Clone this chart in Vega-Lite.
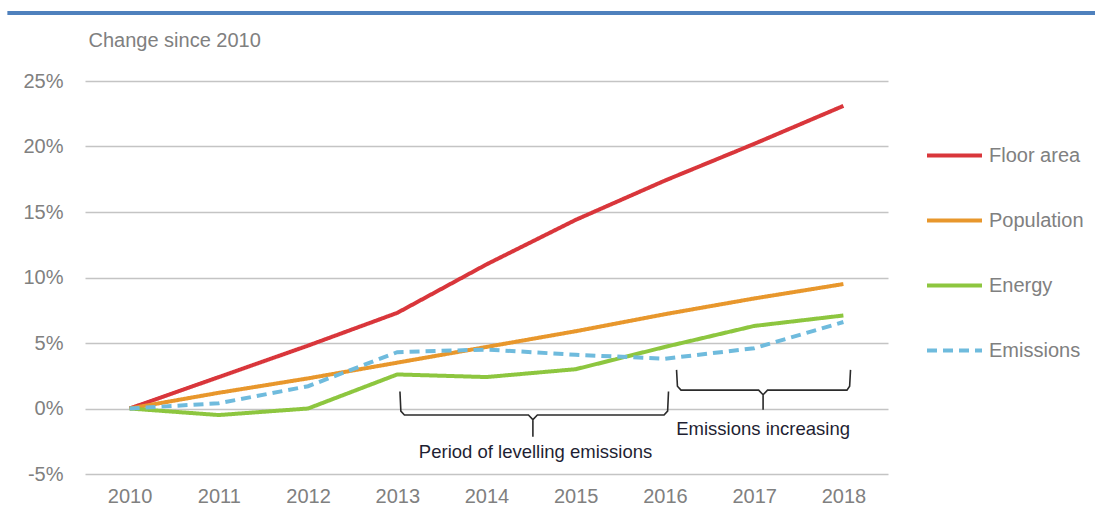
{
  "$schema": "https://vega.github.io/schema/vega-lite/v6.json",
  "width": 803,
  "height": 393,
  "autosize": {"type": "none"},
  "padding": {"left": 85, "top": 81, "right": 207, "bottom": 34},
  "background": "white",
  "config": {"font": "Liberation Sans", "view": {"stroke": null}},
  "datasets": {
    "series": [
      {"series": "Floor area", "year": 2010, "pct": 0},
      {"series": "Floor area", "year": 2011, "pct": 2.4},
      {"series": "Floor area", "year": 2012, "pct": 4.8},
      {"series": "Floor area", "year": 2013, "pct": 7.3},
      {"series": "Floor area", "year": 2014, "pct": 11.0},
      {"series": "Floor area", "year": 2015, "pct": 14.4},
      {"series": "Floor area", "year": 2016, "pct": 17.4},
      {"series": "Floor area", "year": 2017, "pct": 20.2},
      {"series": "Floor area", "year": 2018, "pct": 23.1},
      {"series": "Population", "year": 2010, "pct": 0},
      {"series": "Population", "year": 2011, "pct": 1.2},
      {"series": "Population", "year": 2012, "pct": 2.3},
      {"series": "Population", "year": 2013, "pct": 3.5},
      {"series": "Population", "year": 2014, "pct": 4.7},
      {"series": "Population", "year": 2015, "pct": 5.9},
      {"series": "Population", "year": 2016, "pct": 7.2},
      {"series": "Population", "year": 2017, "pct": 8.4},
      {"series": "Population", "year": 2018, "pct": 9.5},
      {"series": "Energy", "year": 2010, "pct": 0},
      {"series": "Energy", "year": 2011, "pct": -0.5},
      {"series": "Energy", "year": 2012, "pct": 0},
      {"series": "Energy", "year": 2013, "pct": 2.6},
      {"series": "Energy", "year": 2014, "pct": 2.4},
      {"series": "Energy", "year": 2015, "pct": 3.0},
      {"series": "Energy", "year": 2016, "pct": 4.7},
      {"series": "Energy", "year": 2017, "pct": 6.3},
      {"series": "Energy", "year": 2018, "pct": 7.1},
      {"series": "Emissions", "year": 2010, "pct": 0},
      {"series": "Emissions", "year": 2011, "pct": 0.4},
      {"series": "Emissions", "year": 2012, "pct": 1.7},
      {"series": "Emissions", "year": 2013, "pct": 4.3},
      {"series": "Emissions", "year": 2014, "pct": 4.5},
      {"series": "Emissions", "year": 2015, "pct": 4.1},
      {"series": "Emissions", "year": 2016, "pct": 3.8},
      {"series": "Emissions", "year": 2017, "pct": 4.6},
      {"series": "Emissions", "year": 2018, "pct": 6.6}
    ],
    "braces": [
      {"brace": "A", "ord": 1, "year": 2013.03, "pct": 1.3},
      {"brace": "A", "ord": 2, "year": 2013.04, "pct": -0.2},
      {"brace": "A", "ord": 3, "year": 2013.08, "pct": -0.5},
      {"brace": "A", "ord": 4, "year": 2014.47, "pct": -0.5},
      {"brace": "A", "ord": 5, "year": 2014.52, "pct": -0.85},
      {"brace": "A", "ord": 6, "year": 2014.52, "pct": -2.15},
      {"brace": "A", "ord": 7, "year": 2014.52, "pct": -0.85},
      {"brace": "A", "ord": 8, "year": 2014.57, "pct": -0.5},
      {"brace": "A", "ord": 9, "year": 2015.99, "pct": -0.5},
      {"brace": "A", "ord": 10, "year": 2016.03, "pct": -0.2},
      {"brace": "A", "ord": 11, "year": 2016.04, "pct": 1.3},
      {"brace": "B", "ord": 1, "year": 2016.13, "pct": 2.95},
      {"brace": "B", "ord": 2, "year": 2016.14, "pct": 1.7},
      {"brace": "B", "ord": 3, "year": 2016.18, "pct": 1.4},
      {"brace": "B", "ord": 4, "year": 2017.05, "pct": 1.4},
      {"brace": "B", "ord": 5, "year": 2017.1, "pct": 1.05},
      {"brace": "B", "ord": 6, "year": 2017.1, "pct": -0.1},
      {"brace": "B", "ord": 7, "year": 2017.1, "pct": 1.05},
      {"brace": "B", "ord": 8, "year": 2017.15, "pct": 1.4},
      {"brace": "B", "ord": 9, "year": 2018.04, "pct": 1.4},
      {"brace": "B", "ord": 10, "year": 2018.07, "pct": 1.7},
      {"brace": "B", "ord": 11, "year": 2018.08, "pct": 2.95}
    ],
    "notes": [
      {"label": "Period of levelling emissions", "year": 2014.55, "pct": -3.3},
      {"label": "Emissions increasing", "year": 2017.1, "pct": -1.55}
    ],
    "topline": [
      {"year": 2008.63, "year2": 2020.82, "pct": 30.2}
    ]
  },
  "encoding": {
    "x": {
      "field": "year",
      "type": "quantitative",
      "scale": {"domain": [2009.5, 2018.5], "nice": false, "zero": false},
      "axis": {
        "values": [2010, 2011, 2012, 2013, 2014, 2015, 2016, 2017, 2018],
        "format": "d",
        "grid": false,
        "ticks": false,
        "domain": false,
        "title": null,
        "labelFontSize": 20,
        "labelColor": "#808080",
        "labelPadding": 12,
        "labelFlush": false
      }
    },
    "y": {
      "field": "pct",
      "type": "quantitative",
      "scale": {"domain": [-5, 25], "nice": false, "zero": false},
      "axis": {
        "values": [-5, 0, 5, 10, 15, 20, 25],
        "labelExpr": "datum.value + '%'",
        "grid": true,
        "gridColor": "#c4c4c4",
        "gridWidth": 1.5,
        "ticks": false,
        "domain": false,
        "labelFontSize": 20,
        "labelColor": "#808080",
        "labelPadding": 22,
        "title": "Change since 2010",
        "titleAngle": 0,
        "titleX": 3,
        "titleY": -41,
        "titleAlign": "left",
        "titleBaseline": "middle",
        "titleFontSize": 20,
        "titleFontWeight": "normal",
        "titleColor": "#808080"
      }
    }
  },
  "layer": [
    {
      "data": {"name": "topline"},
      "mark": {"type": "rule", "color": "#4f81bd", "strokeWidth": 4, "clip": false},
      "encoding": {"x2": {"field": "year2"}}
    },
    {
      "data": {"name": "series"},
      "mark": {"type": "line", "strokeWidth": 4},
      "encoding": {
        "color": {
          "field": "series",
          "type": "nominal",
          "scale": {
            "domain": ["Floor area", "Population", "Energy", "Emissions"],
            "range": ["#d9363b", "#e8972c", "#8dc63f", "#6fbbdd"]
          },
          "legend": {
            "title": null,
            "orient": "none",
            "legendX": 840,
            "legendY": 45,
            "symbolType": "stroke",
            "symbolSize": 3025,
            "symbolStrokeWidth": 4,
            "rowPadding": 25,
            "labelOffset": 5,
            "labelFontSize": 20,
            "labelColor": "#808080",
            "labelLimit": 200
          }
        },
        "strokeDash": {
          "field": "series",
          "type": "nominal",
          "scale": {
            "domain": ["Floor area", "Population", "Energy", "Emissions"],
            "range": [[1, 0], [1, 0], [1, 0], [10, 6]]
          },
          "legend": {
            "title": null,
            "orient": "none",
            "legendX": 840,
            "legendY": 45,
            "symbolType": "stroke",
            "symbolSize": 3025,
            "symbolStrokeWidth": 4,
            "rowPadding": 25,
            "labelOffset": 5,
            "labelFontSize": 20,
            "labelColor": "#808080",
            "labelLimit": 200
          }
        }
      }
    },
    {
      "data": {"name": "braces"},
      "mark": {"type": "line", "color": "#2b2b2b", "strokeWidth": 1.6},
      "encoding": {
        "detail": {"field": "brace", "type": "nominal"},
        "order": {"field": "ord", "type": "quantitative"}
      }
    },
    {
      "data": {"name": "notes"},
      "mark": {"type": "text", "fontSize": 18.5, "color": "#1f1f33", "align": "center", "baseline": "middle"},
      "encoding": {"text": {"field": "label"}}
    }
  ]
}
